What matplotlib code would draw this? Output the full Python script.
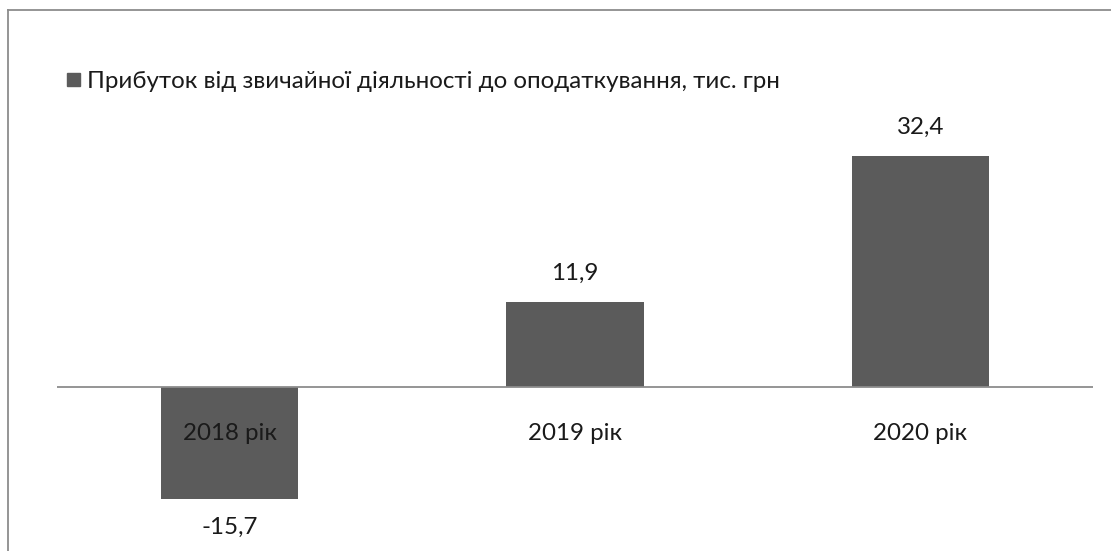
import matplotlib
matplotlib.use("Agg")
import matplotlib.pyplot as plt
from matplotlib.lines import Line2D
from matplotlib.patches import Rectangle

# Data
categories = ["2018 рік", "2019 рік", "2020 рік"]
values = [-15.7, 11.9, 32.4]
value_labels = ["-15,7", "11,9", "32,4"]
series_name = "Прибуток від звичайної діяльності до оподаткування, тис. грн"

W, H = 1111, 551
fig = plt.figure(figsize=(W / 100, H / 100), dpi=100)
plt.rcParams["font.family"] = ["Lato", "DejaVu Sans"]

bar_color = "#5b5b5b"
text_color = "#1a1a1a"
fs = 17.4

# Outer chart frame (left and top edges visible)
fig.add_artist(Line2D([8 / W, 8 / W], [0, 1 - 10 / H], transform=fig.transFigure,
                      color="#8c8c8c", lw=1.3))
fig.add_artist(Line2D([8 / W, 1], [1 - 10 / H, 1 - 10 / H], transform=fig.transFigure,
                      color="#8c8c8c", lw=1.3))

# Plot area: zero line at y=387 px, 7.135 px per unit
ymin, ymax = -20, 35
ppu = 7.135
top_px = 387 - ymax * ppu
bot_px = 387 - ymin * ppu
left_px, right_px = 57, 1093
ax = fig.add_axes([left_px / W, 1 - bot_px / H, (right_px - left_px) / W, (bot_px - top_px) / H])
ax.set_xlim(-0.5, len(categories) - 0.5)
ax.set_ylim(ymin, ymax)

x = range(len(categories))
ax.bar(x, values, width=0.397, color=bar_color, zorder=2)
ax.axhline(0, color="#8c8c8c", lw=1.3, zorder=3)

for xi, v, lab in zip(x, values, value_labels):
    if v >= 0:
        ax.text(xi, v + 4.0, lab, ha="center", va="center", fontsize=fs, color=text_color)
    else:
        ax.text(xi, v - 4.0, lab, ha="center", va="center", fontsize=fs, color=text_color)

for xi, c in zip(x, categories):
    ax.text(xi, -6.5, c, ha="center", va="center", fontsize=fs, color=text_color, zorder=4)

for s in ax.spines.values():
    s.set_visible(False)
ax.set_xticks([])
ax.set_yticks([])
ax.patch.set_alpha(0)

# Legend entry
fig.add_artist(Rectangle((67 / W, 1 - 86 / H), 13 / W, 13 / H, transform=fig.transFigure,
                         color=bar_color))
fig.text(87 / W, 1 - 81 / H, series_name, ha="left", va="center", fontsize=fs, color=text_color)

fig.savefig("out.png", dpi=100)
